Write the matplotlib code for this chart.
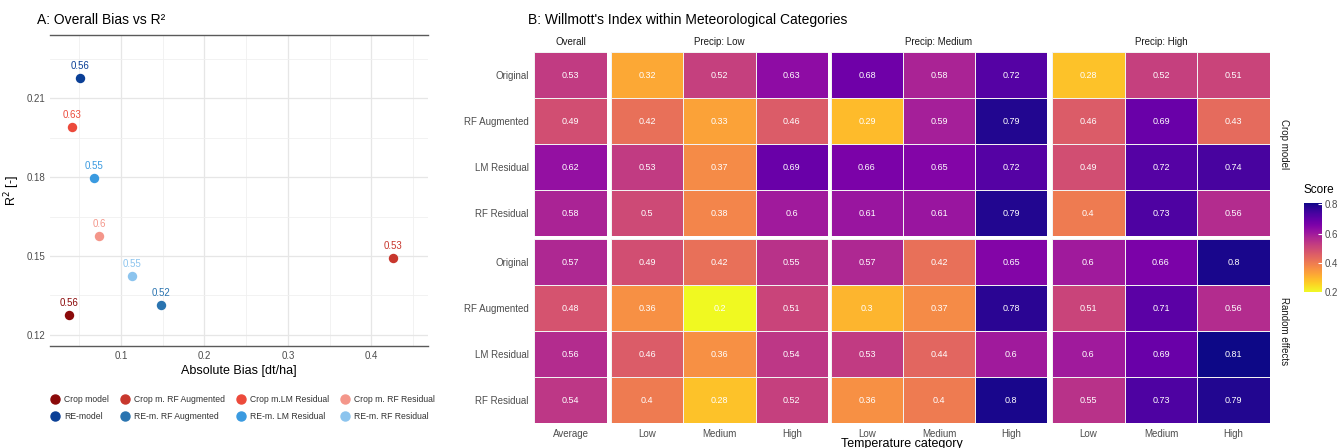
import numpy as np
import matplotlib
matplotlib.use("Agg")
import matplotlib.pyplot as plt
from matplotlib.lines import Line2D

plt.rcParams["font.family"] = ["Liberation Sans", "DejaVu Sans"]

# ---- panel A data ----
models = ["Crop model", "Crop m. RF Augmented", "Crop m.LM Residual", "Crop m. RF Residual",
          "RE-model", "RE-m. RF Augmented", "RE-m. LM Residual", "RE-m. RF Residual"]
abs_bias = [0.038, 0.426, 0.041, 0.074, 0.051, 0.148, 0.068, 0.113]
r2 = [0.1276, 0.1492, 0.1990, 0.1576, 0.2176, 0.1314, 0.1796, 0.1424]
willmott = ["0.56", "0.53", "0.63", "0.6", "0.56", "0.52", "0.55", "0.55"]
colors = ["#8b0a0a", "#c8372d", "#ec4a3b", "#f4968a", "#0a3f96", "#2a74b0", "#3a9ae0", "#8cc4ee"]

# ---- panel B data ----
row_labels = ["Original", "RF Augmented", "LM Residual", "RF Residual"]
groups = ["Crop model", "Random effects"]
facets = ["Overall", "Precip: Low", "Precip: Medium", "Precip: High"]
temp_cats = ["Low", "Medium", "High"]
crop_overall = [0.53, 0.49, 0.62, 0.58]
crop_low = [[0.32, 0.52, 0.63], [0.42, 0.33, 0.46], [0.53, 0.37, 0.69], [0.5, 0.38, 0.6]]
crop_med = [[0.68, 0.58, 0.72], [0.29, 0.59, 0.79], [0.66, 0.65, 0.72], [0.61, 0.61, 0.79]]
crop_high = [[0.28, 0.52, 0.51], [0.46, 0.69, 0.43], [0.49, 0.72, 0.74], [0.4, 0.73, 0.56]]
re_overall = [0.57, 0.48, 0.56, 0.54]
re_low = [[0.49, 0.42, 0.55], [0.36, 0.2, 0.51], [0.46, 0.36, 0.54], [0.4, 0.28, 0.52]]
re_med = [[0.57, 0.42, 0.65], [0.3, 0.37, 0.78], [0.53, 0.44, 0.6], [0.36, 0.4, 0.8]]
re_high = [[0.6, 0.66, 0.8], [0.51, 0.71, 0.56], [0.6, 0.69, 0.81], [0.55, 0.73, 0.79]]

W, H = 1341, 448
fig = plt.figure(figsize=(W / 100, H / 100), dpi=100)


def box(x0, y0, x1, y1):
    return [x0 / W, 1 - y1 / H, (x1 - x0) / W, (y1 - y0) / H]


# ================= panel A =================
ax = fig.add_axes(box(50, 35, 428, 346))
for x, y, lab, c in zip(abs_bias, r2, willmott, colors):
    ax.scatter(x, y, s=46, color=c, zorder=3, linewidths=0)
    ax.annotate(lab, (x, y), xytext=(0, 5), textcoords="offset points", ha="center",
                va="bottom", fontsize=7, color=c)
ax.set_xlim(0.0148, 0.468)
ax.set_ylim(0.1158, 0.234)
ax.set_xticks([0.1, 0.2, 0.3, 0.4])
ax.set_xticklabels(["0.1", "0.2", "0.3", "0.4"])
ax.set_yticks([0.12, 0.15, 0.18, 0.21])
ax.set_yticklabels(["0.12", "0.15", "0.18", "0.21"])
ax.set_xticks([0.05, 0.15, 0.25, 0.35, 0.45], minor=True)
ax.set_yticks([0.135, 0.165, 0.195, 0.225], minor=True)
ax.grid(True, which="major", color="#e6e6e6", lw=0.9)
ax.grid(True, which="minor", color="#f0f0f0", lw=0.6)
ax.tick_params(which="both", length=0, labelsize=7, labelcolor="#4d4d4d")
for s in ["left", "right"]:
    ax.spines[s].set_visible(False)
for s in ["top", "bottom"]:
    ax.spines[s].set_color("#5a5a5a")
    ax.spines[s].set_linewidth(1.0)
ax.set_xlabel("Absolute Bias [dt/ha]", fontsize=9, labelpad=3)
ax.set_ylabel("R$^2$ [-]", fontsize=9, labelpad=3)
fig.text(37 / W, 1 - 20 / H, "A: Overall Bias vs R²", fontsize=10, va="center", ha="left")

order = [0, 4, 1, 5, 2, 6, 3, 7]
handles = [Line2D([], [], marker="o", ls="", color=colors[i], markersize=6.5) for i in order]
fig.legend(handles, [models[i] for i in order], ncol=4, loc="center",
           bbox_to_anchor=(242 / W, 1 - 408 / H), frameon=False, fontsize=6.2,
           handletextpad=0.4, columnspacing=1.1, labelspacing=1.0, handlelength=1.4,
           labelcolor="#333333")

# ================= panel B =================
cmap = plt.get_cmap("plasma_r")
vmin, vmax = 0.2, 0.81
col_x = [(534, 607), (611, 828), (831, 1047), (1052, 1270)]
row_y = [(52, 236), (239, 423)]
data = [[crop_overall, crop_low, crop_med, crop_high],
        [re_overall, re_low, re_med, re_high]]

mesh = None
for gi, (y0, y1) in enumerate(row_y):
    for fi, (x0, x1) in enumerate(col_x):
        a = fig.add_axes(box(x0, y0, x1, y1))
        vals = np.array(data[gi][fi], dtype=float)
        if vals.ndim == 1:
            vals = vals[:, None]
        nr, nc = vals.shape
        mesh = a.pcolormesh(np.arange(nc + 1), np.arange(nr + 1), vals, cmap=cmap,
                            vmin=vmin, vmax=vmax, edgecolors="#f2f2f2", linewidth=0.5)
        for r in range(nr):
            for c in range(nc):
                a.text(c + 0.5, r + 0.5, f"{vals[r, c]:g}", ha="center", va="center",
                       fontsize=6.5, color="white")
        a.set_xlim(0, nc)
        a.set_ylim(nr, 0)
        for s in a.spines.values():
            s.set_visible(False)
        a.tick_params(length=0, labelsize=7, labelcolor="#4d4d4d", pad=4)
        a.set_xticks(np.arange(nc) + 0.5)
        if gi == 1:
            a.set_xticklabels(["Average"] if fi == 0 else temp_cats)
        else:
            a.set_xticklabels([])
        a.set_yticks(np.arange(nr) + 0.5)
        if fi == 0:
            a.set_yticklabels(row_labels)
        else:
            a.set_yticklabels([])
        if gi == 0:
            a.set_title(facets[fi], fontsize=7, color="#1a1a1a", pad=5)
        if fi == 3:
            a.text(1.04, 0.5, groups[gi], transform=a.transAxes, rotation=270,
                   ha="left", va="center", fontsize=7, color="#1a1a1a")

fig.text(528 / W, 1 - 20 / H, "B: Willmott's Index within Meteorological Categories",
         fontsize=10, va="center", ha="left")
fig.text(902 / W, 1 - 444 / H, "Temperature category", fontsize=9, ha="center", va="center")

cax = fig.add_axes(box(1304, 203, 1322, 292))
cb = fig.colorbar(mesh, cax=cax, ticks=[0.2, 0.4, 0.6, 0.8])
cb.outline.set_visible(False)
cb.ax.tick_params(length=3, color="white", labelsize=7, labelcolor="#4d4d4d", direction="in", pad=2)
cb.set_ticklabels(["0.2", "0.4", "0.6", "0.8"])
fig.text(1304 / W, 1 - 190 / H, "Score", fontsize=8.5, ha="left", va="center")

fig.savefig("out.png", dpi=100)
